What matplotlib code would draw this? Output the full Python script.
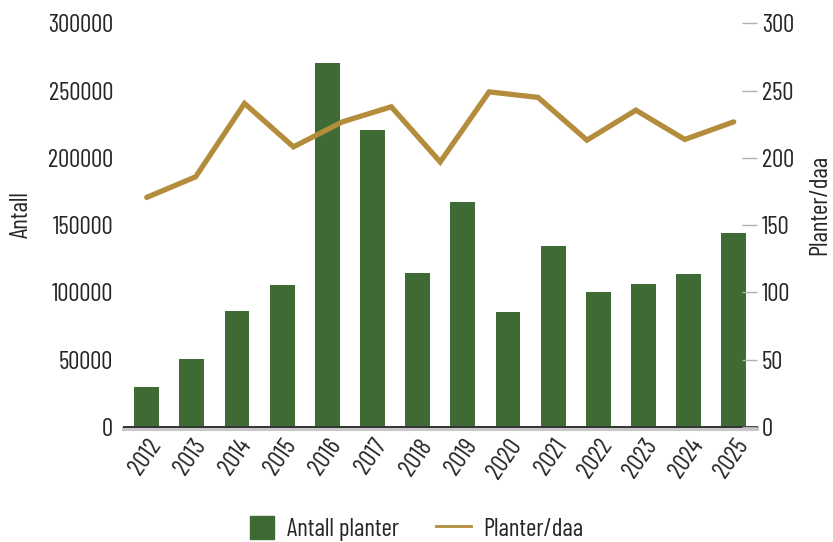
import matplotlib
matplotlib.use('Agg')
import matplotlib.pyplot as plt
import matplotlib.patheffects as pe
from matplotlib.patches import Rectangle
from matplotlib.lines import Line2D
from matplotlib.legend_handler import HandlerPatch
import numpy as np

# data
years = ['2012', '2013', '2014', '2015', '2016', '2017', '2018',
         '2019', '2020', '2021', '2022', '2023', '2024', '2025']
antall = [29500, 50300, 86000, 105400, 270500, 220600, 114300,
          167100, 85300, 134400, 100200, 106100, 113600, 144000]
# the line only has 13 points, spread over the whole axis
planter_daa = [170.6, 185.9, 240.5, 208.2, 226.8, 238.0, 197.0,
               249.1, 245.0, 213.2, 235.5, 213.7, 226.8]

green = '#3e6b34'
gold = '#b38c3c'
txt = '#262626'

plt.rcParams['font.family'] = ['Barlow Condensed', 'Roboto Condensed',
                               'Saira ExtraCondensed', 'DejaVu Sans']
plt.rcParams['font.size'] = 18
plt.rcParams['text.color'] = txt

fig = plt.figure(figsize=(8.33, 5.42), dpi=100)
ax = fig.add_axes([0.149, 0.2127, 0.76, 0.744])
ax2 = ax.twinx()

x = np.arange(len(years))
bars = ax.bar(x, antall, width=0.55, color=green, zorder=2)
xl = np.linspace(0, len(years) - 1, len(planter_daa))
ax2.plot(xl, planter_daa, color=gold, lw=3.8, solid_capstyle='round',
         solid_joinstyle='miter')

ax.set_xlim(-0.5, len(years) - 0.48)
ax.set_ylim(0, 300000)
ax.set_yticks(np.arange(0, 300001, 50000))
ax2.set_ylim(0, 300)
ax2.set_yticks(np.arange(0, 301, 50))

ax.set_xticks(x)
ax.set_xticklabels(years, rotation=55, ha='right', rotation_mode='anchor')
ax.tick_params(axis='x', length=0, pad=6, labelcolor=txt)
ax.tick_params(axis='y', length=0, pad=8, labelcolor=txt)
ax2.tick_params(axis='y', direction='in', length=11, width=1, color='#b0b0b0',
                pad=3.5, labelcolor=txt)

for s in ['top', 'left', 'right']:
    ax.spines[s].set_visible(False)
    ax2.spines[s].set_visible(False)
ax2.spines['bottom'].set_visible(False)
ax.spines['bottom'].set_color('#333333')
ax.spines['bottom'].set_linewidth(1.4)
ax.spines['bottom'].set_zorder(3)
ax.spines['bottom'].set_path_effects([
    pe.SimpleLineShadow(offset=(0, -1.5), shadow_color='#c8c8c8', alpha=1, linewidth=3),
    pe.Normal()])

ax.set_ylabel('Antall', color=txt)
ax.yaxis.set_label_coords(-0.145, 0.525)
ax2.set_ylabel('Planter/daa', color=txt)
ax2.yaxis.set_label_coords(1.081, 0.55)


def square_patch(legend, orig_handle, xdescent, ydescent, width, height, fontsize):
    side = 0.95 * fontsize
    return Rectangle((width - side - xdescent, -ydescent + (height - side) / 2), side, side)


sq = Rectangle((0, 0), 1, 1, color=green)
ln = Line2D([], [], color=gold, lw=2)
fig.legend([sq, ln], ['Antall planter', 'Planter/daa'], loc='center',
           bbox_to_anchor=(0.494, 0.024), ncol=2, frameon=False,
           handler_map={Rectangle: HandlerPatch(patch_func=square_patch)},
           handlelength=1.4, handleheight=0.95, columnspacing=1.5, handletextpad=0.5)

fig.savefig('out.png', dpi=100)
